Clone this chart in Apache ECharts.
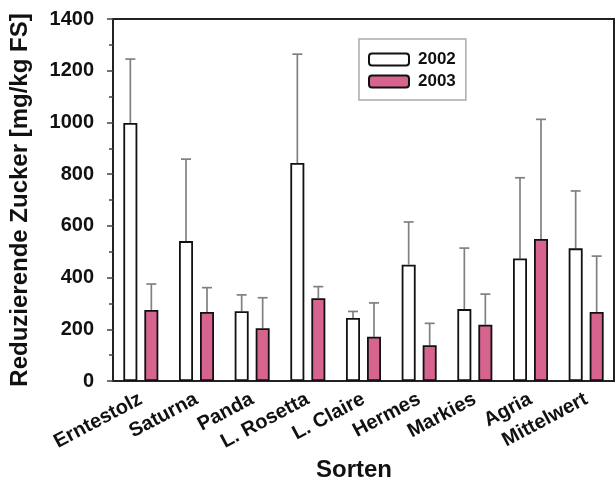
<!DOCTYPE html>
<html><head><meta charset="utf-8">
<script src="https://cdn.jsdelivr.net/npm/echarts@6/dist/echarts.min.js"></script>
<style>html,body{margin:0;padding:0;background:#fff}#c{width:615px;height:479px}</style>
</head><body><div id="c"></div>
<script>
const categories = ['Erntestolz','Saturna','Panda','L. Rosetta','L. Claire','Hermes','Markies','Agria','Mittelwert'];
const values2002 = [998, 541, 270, 843, 244, 450, 278, 474, 513];
const err2002 = [1245, 858, 333, 1264, 269, 615, 514, 786, 735];
const values2003 = [275, 267, 204, 320, 171, 138, 218, 549, 267];
const err2003 = [375, 361, 322, 365, 302, 223, 336, 1012, 483];
const yTicks = [0, 200, 400, 600, 800, 1000, 1200, 1400];

const BAR_W = 14, BAR_GAP = 7;
const font = 'Liberation Sans, Arial, sans-serif';

function errSeries(vals, errs, sign) {
  return {
    type: 'custom', z: 1, silent: true,
    data: vals.map((v, i) => [i, v, errs[i]]),
    renderItem: function (params, api) {
      const i = api.value(0);
      const off = sign * (BAR_W / 2 + BAR_GAP / 2);
      const p0 = api.coord([i, api.value(1)]);
      const p1 = api.coord([i, api.value(2)]);
      const x = p0[0] + off;
      const st = { stroke: '#808080', lineWidth: 1.7 };
      return { type: 'group', children: [
        { type: 'line', shape: { x1: x, y1: p0[1], x2: x, y2: p1[1] }, style: st },
        { type: 'line', shape: { x1: x - 5, y1: p1[1], x2: x + 5, y2: p1[1] }, style: st }
      ]};
    }
  };
}

const chart = echarts.init(document.getElementById('c'));
chart.setOption({
  animation: false,
  grid: { left: 113, right: 1, top: 19, bottom: 98, show: true, borderColor: '#222', borderWidth: 2,
          containLabel: false, outerBoundsMode: 'none' },
  legend: {
    data: ['2002', '2003'], orient: 'vertical', left: 359, top: 39,
    itemWidth: 40, itemHeight: 12, itemGap: 5,
    padding: [12, 10, 10, 9],
    borderColor: '#aaa', borderWidth: 1.5,
    textStyle: { fontFamily: font, fontWeight: 'bold', fontSize: 17, color: '#111', padding: [0, 0, 0, 4] }
  },
  xAxis: {
    type: 'category', data: categories,
    name: 'Sorten', nameLocation: 'middle', nameGap: 74,
    nameTextStyle: { fontFamily: font, fontWeight: 'bold', fontSize: 24, color: '#111', padding: [0, 19, 0, 0] },
    axisLine: { lineStyle: { color: '#222', width: 2 } },
    axisTick: { alignWithLabel: true, length: 5, lineStyle: { color: '#777' } },
    axisLabel: { rotate: 28, margin: 17, fontFamily: font, fontWeight: 'bold', fontSize: 20, color: '#111', interval: 0 }
  },
  yAxis: {
    type: 'value', min: yTicks[0], max: yTicks[yTicks.length - 1], interval: 200,
    name: 'Reduzierende Zucker [mg/kg FS]', nameLocation: 'middle', nameGap: 81,
    nameTextStyle: { fontFamily: font, fontWeight: 'bold', fontSize: 24, color: '#111' },
    axisLine: { show: true, lineStyle: { color: '#222', width: 2 } },
    axisTick: { show: true, length: 6, lineStyle: { color: '#444', width: 1.5 } },
    minorTick: { show: true, splitNumber: 2, length: 4, lineStyle: { color: '#444', width: 1.5 } },
    splitLine: { show: false },
    axisLabel: { margin: 19, fontFamily: font, fontWeight: 'bold', fontSize: 20, color: '#111', formatter: v => String(v) }
  },
  series: [
    errSeries(values2002, err2002, -1),
    errSeries(values2003, err2003, 1),
    { name: '2002', type: 'bar', z: 2, data: values2002, barWidth: BAR_W, barGap: (BAR_GAP / BAR_W * 100) + '%',
      itemStyle: { color: '#fff', borderColor: '#111', borderWidth: 1.8 } },
    { name: '2003', type: 'bar', z: 2, data: values2003, barWidth: BAR_W,
      itemStyle: { color: '#d6648f', borderColor: '#111', borderWidth: 1.8 } }
  ]
});
</script></body></html>
